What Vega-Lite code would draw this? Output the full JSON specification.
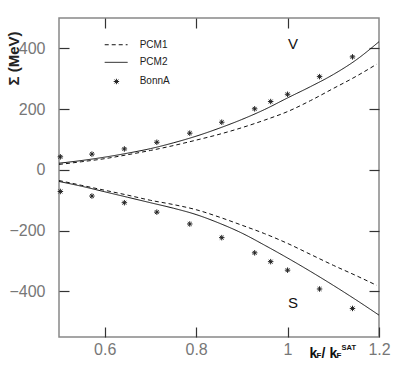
{
  "$schema": "https://vega.github.io/schema/vega-lite/v6.json",
  "width": 320,
  "height": 319,
  "autosize": "none",
  "padding": {"left": 59, "top": 18, "right": 25, "bottom": 49},
  "background": "white",
  "config": {
    "font": "Liberation Sans",
    "view": {"stroke": "#888", "strokeWidth": 1.5},
    "axis": {"grid": false, "domain": false, "tickSize": -10, "tickColor": "#333", "tickWidth": 1.2, "labelFontSize": 16, "labelColor": "#777", "labelFont": "Liberation Sans"}
  },
  "datasets": {
    "curves": [
      {"model": "PCM2", "branch": "V", "x": 0.5, "y": 22},
      {"model": "PCM2", "branch": "V", "x": 0.55, "y": 31},
      {"model": "PCM2", "branch": "V", "x": 0.6, "y": 42},
      {"model": "PCM2", "branch": "V", "x": 0.65, "y": 55},
      {"model": "PCM2", "branch": "V", "x": 0.7, "y": 70},
      {"model": "PCM2", "branch": "V", "x": 0.75, "y": 89},
      {"model": "PCM2", "branch": "V", "x": 0.8, "y": 111},
      {"model": "PCM2", "branch": "V", "x": 0.85, "y": 137},
      {"model": "PCM2", "branch": "V", "x": 0.9, "y": 166},
      {"model": "PCM2", "branch": "V", "x": 0.95, "y": 199},
      {"model": "PCM2", "branch": "V", "x": 1.0, "y": 237},
      {"model": "PCM2", "branch": "V", "x": 1.05, "y": 274},
      {"model": "PCM2", "branch": "V", "x": 1.1, "y": 314},
      {"model": "PCM2", "branch": "V", "x": 1.15, "y": 362},
      {"model": "PCM2", "branch": "V", "x": 1.2, "y": 422},
      {"model": "PCM1", "branch": "V", "x": 0.5, "y": 18},
      {"model": "PCM1", "branch": "V", "x": 0.55, "y": 27},
      {"model": "PCM1", "branch": "V", "x": 0.6, "y": 37},
      {"model": "PCM1", "branch": "V", "x": 0.65, "y": 50},
      {"model": "PCM1", "branch": "V", "x": 0.7, "y": 64},
      {"model": "PCM1", "branch": "V", "x": 0.75, "y": 80},
      {"model": "PCM1", "branch": "V", "x": 0.8, "y": 98},
      {"model": "PCM1", "branch": "V", "x": 0.85, "y": 117},
      {"model": "PCM1", "branch": "V", "x": 0.9, "y": 139},
      {"model": "PCM1", "branch": "V", "x": 0.95, "y": 164},
      {"model": "PCM1", "branch": "V", "x": 1.0, "y": 192},
      {"model": "PCM1", "branch": "V", "x": 1.05, "y": 228},
      {"model": "PCM1", "branch": "V", "x": 1.1, "y": 268},
      {"model": "PCM1", "branch": "V", "x": 1.15, "y": 308},
      {"model": "PCM1", "branch": "V", "x": 1.195, "y": 348},
      {"model": "PCM2", "branch": "S", "x": 0.5, "y": -38},
      {"model": "PCM2", "branch": "S", "x": 0.55, "y": -54},
      {"model": "PCM2", "branch": "S", "x": 0.6, "y": -72},
      {"model": "PCM2", "branch": "S", "x": 0.65, "y": -90},
      {"model": "PCM2", "branch": "S", "x": 0.7, "y": -108},
      {"model": "PCM2", "branch": "S", "x": 0.75, "y": -126},
      {"model": "PCM2", "branch": "S", "x": 0.8, "y": -147},
      {"model": "PCM2", "branch": "S", "x": 0.85, "y": -175},
      {"model": "PCM2", "branch": "S", "x": 0.9, "y": -208},
      {"model": "PCM2", "branch": "S", "x": 0.95, "y": -248},
      {"model": "PCM2", "branch": "S", "x": 1.0, "y": -290},
      {"model": "PCM2", "branch": "S", "x": 1.05, "y": -334},
      {"model": "PCM2", "branch": "S", "x": 1.1, "y": -380},
      {"model": "PCM2", "branch": "S", "x": 1.15, "y": -428},
      {"model": "PCM2", "branch": "S", "x": 1.2, "y": -478},
      {"model": "PCM1", "branch": "S", "x": 0.5, "y": -35},
      {"model": "PCM1", "branch": "S", "x": 0.55, "y": -51},
      {"model": "PCM1", "branch": "S", "x": 0.6, "y": -67},
      {"model": "PCM1", "branch": "S", "x": 0.65, "y": -83},
      {"model": "PCM1", "branch": "S", "x": 0.7, "y": -100},
      {"model": "PCM1", "branch": "S", "x": 0.75, "y": -114},
      {"model": "PCM1", "branch": "S", "x": 0.8, "y": -131},
      {"model": "PCM1", "branch": "S", "x": 0.85, "y": -155},
      {"model": "PCM1", "branch": "S", "x": 0.9, "y": -182},
      {"model": "PCM1", "branch": "S", "x": 0.95, "y": -210},
      {"model": "PCM1", "branch": "S", "x": 1.0, "y": -242},
      {"model": "PCM1", "branch": "S", "x": 1.05, "y": -278},
      {"model": "PCM1", "branch": "S", "x": 1.1, "y": -314},
      {"model": "PCM1", "branch": "S", "x": 1.15, "y": -348},
      {"model": "PCM1", "branch": "S", "x": 1.195, "y": -380}
    ],
    "bonn": [
      {"branch": "V", "x": 0.503, "y": 43},
      {"branch": "V", "x": 0.572, "y": 52},
      {"branch": "V", "x": 0.643, "y": 69},
      {"branch": "V", "x": 0.714, "y": 91},
      {"branch": "V", "x": 0.786, "y": 121},
      {"branch": "V", "x": 0.856, "y": 157},
      {"branch": "V", "x": 0.928, "y": 201},
      {"branch": "V", "x": 0.963, "y": 225},
      {"branch": "V", "x": 1.0, "y": 249},
      {"branch": "V", "x": 1.07, "y": 307},
      {"branch": "V", "x": 1.142, "y": 372},
      {"branch": "S", "x": 0.503, "y": -71},
      {"branch": "S", "x": 0.572, "y": -86},
      {"branch": "S", "x": 0.643, "y": -108},
      {"branch": "S", "x": 0.714, "y": -139},
      {"branch": "S", "x": 0.786, "y": -178},
      {"branch": "S", "x": 0.856, "y": -223},
      {"branch": "S", "x": 0.928, "y": -273},
      {"branch": "S", "x": 0.963, "y": -302},
      {"branch": "S", "x": 1.0, "y": -330},
      {"branch": "S", "x": 1.07, "y": -392},
      {"branch": "S", "x": 1.142, "y": -456}
    ],
    "legendLines": [
      {"model": "PCM1", "x": 0.6, "x2": 0.65, "y": 412},
      {"model": "PCM2", "x": 0.6, "x2": 0.65, "y": 354}
    ],
    "legendStar": [{"x": 0.6256, "y": 291}],
    "legendText": [
      {"label": "PCM1", "x": 0.6765, "y": 412},
      {"label": "PCM2", "x": 0.6765, "y": 354},
      {"label": "BonnA", "x": 0.6765, "y": 293}
    ],
    "branchText": [
      {"label": "V", "x": 1.012, "y": 415},
      {"label": "S", "x": 1.012, "y": -437}
    ],
    "titleBig": [
      {"label": "k", "x": 1.048, "y": -619},
      {"label": "/", "x": 1.0744, "y": -619},
      {"label": "k", "x": 1.0918, "y": -619}
    ],
    "titleSub": [
      {"label": "F", "x": 1.0634, "y": -619},
      {"label": "F", "x": 1.1071, "y": -619}
    ],
    "titleSup": [
      {"label": "SAT", "x": 1.118, "y": -593}
    ]
  },
  "resolve": {"axis": {"x": "independent", "y": "independent"}},
  "layer": [
    {
      "data": {"name": "curves"},
      "mark": {"type": "line", "interpolate": "monotone", "strokeWidth": 1, "color": "#111"},
      "encoding": {
        "x": {"field": "x", "type": "quantitative", "scale": {"domain": [0.5, 1.2], "nice": false, "zero": false},
              "axis": {"orient": "bottom", "values": [0.6, 0.8, 1.0, 1.2], "format": "~g", "labelFlush": false, "labelPadding": 14, "title": null}},
        "y": {"field": "y", "type": "quantitative", "scale": {"domain": [-550, 500], "nice": false, "zero": false},
              "axis": {"orient": "left", "values": [-400, -200, 0, 200, 400], "labelPadding": 24, "title": "Σ (MeV)",
                       "titleFontSize": 15, "titleFontWeight": "bold", "titleColor": "#222", "titleX": -46, "titleY": 40,
                       "titleAlign": "center", "titleBaseline": "middle", "titleAngle": -90}},
        "strokeDash": {"field": "model", "type": "nominal", "scale": {"domain": ["PCM1", "PCM2"], "range": [[4, 3], [1, 0]]}, "legend": null},
        "detail": {"field": "branch", "type": "nominal"}
      }
    },
    {
      "data": {"name": "bonn"},
      "mark": {"type": "point", "shape": "M-1,0L1,0M0,-1L0,1M-0.7,-0.7L0.7,0.7M-0.7,0.7L0.7,-0.7", "filled": false, "stroke": "#222", "strokeWidth": 1, "size": 30, "opacity": 1},
      "encoding": {
        "x": {"field": "x", "type": "quantitative", "scale": {"domain": [0.5, 1.2], "nice": false, "zero": false},
              "axis": {"orient": "top", "values": [0.6, 0.8, 1.0], "labels": false, "title": null}},
        "y": {"field": "y", "type": "quantitative", "scale": {"domain": [-550, 500], "nice": false, "zero": false},
              "axis": {"orient": "right", "values": [-400, -200, 0, 200, 400], "labels": false, "title": null}}
      }
    },
    {
      "data": {"name": "legendLines"},
      "mark": {"type": "rule", "strokeWidth": 1, "color": "#111"},
      "encoding": {
        "x": {"field": "x", "type": "quantitative", "axis": null},
        "x2": {"field": "x2"},
        "y": {"field": "y", "type": "quantitative", "axis": null},
        "strokeDash": {"field": "model", "type": "nominal", "scale": {"domain": ["PCM1", "PCM2"], "range": [[4, 3], [1, 0]]}, "legend": null}
      }
    },
    {
      "data": {"name": "legendStar"},
      "mark": {"type": "point", "shape": "M-1,0L1,0M0,-1L0,1M-0.7,-0.7L0.7,0.7M-0.7,0.7L0.7,-0.7", "filled": false, "stroke": "#222", "strokeWidth": 1, "size": 30, "opacity": 1},
      "encoding": {
        "x": {"field": "x", "type": "quantitative", "axis": null},
        "y": {"field": "y", "type": "quantitative", "axis": null}
      }
    },
    {
      "data": {"name": "legendText"},
      "mark": {"type": "text", "align": "left", "baseline": "middle", "fontSize": 10, "color": "#222", "font": "Liberation Sans"},
      "encoding": {
        "x": {"field": "x", "type": "quantitative", "axis": null},
        "y": {"field": "y", "type": "quantitative", "axis": null},
        "text": {"field": "label"}
      }
    },
    {
      "data": {"name": "branchText"},
      "mark": {"type": "text", "align": "center", "baseline": "middle", "fontSize": 15, "color": "#111", "font": "Liberation Sans"},
      "encoding": {
        "x": {"field": "x", "type": "quantitative", "axis": null},
        "y": {"field": "y", "type": "quantitative", "axis": null},
        "text": {"field": "label"}
      }
    },
    {
      "data": {"name": "titleBig"},
      "mark": {"type": "text", "align": "left", "baseline": "alphabetic", "fontSize": 14, "fontWeight": "bold", "color": "#111", "font": "Liberation Sans"},
      "encoding": {
        "x": {"field": "x", "type": "quantitative", "axis": null},
        "y": {"field": "y", "type": "quantitative", "axis": null},
        "text": {"field": "label"}
      }
    },
    {
      "data": {"name": "titleSub"},
      "mark": {"type": "text", "align": "left", "baseline": "alphabetic", "fontSize": 8, "fontWeight": "bold", "color": "#111", "font": "Liberation Sans"},
      "encoding": {
        "x": {"field": "x", "type": "quantitative", "axis": null},
        "y": {"field": "y", "type": "quantitative", "axis": null},
        "text": {"field": "label"}
      }
    },
    {
      "data": {"name": "titleSup"},
      "mark": {"type": "text", "align": "left", "baseline": "alphabetic", "fontSize": 7.5, "fontWeight": "bold", "color": "#111", "font": "Liberation Sans"},
      "encoding": {
        "x": {"field": "x", "type": "quantitative", "axis": null},
        "y": {"field": "y", "type": "quantitative", "axis": null},
        "text": {"field": "label"}
      }
    }
  ]
}
